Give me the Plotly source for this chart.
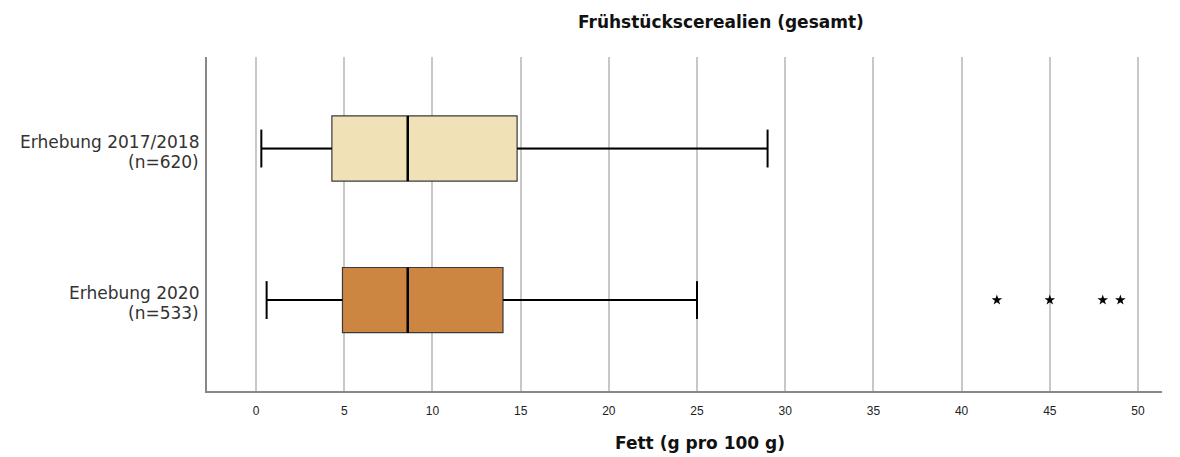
import plotly.graph_objects as go

# Survey groups (top to bottom) and their box statistics for fat content (g per 100 g)
group_names = ["Erhebung 2017/2018", "Erhebung 2020"]
group_sizes = ["(n=620)", "(n=533)"]
lower_whisker = [0.3, 0.6]
q1 = [4.3, 4.9]
median = [8.6, 8.6]
q3 = [14.8, 14.0]
upper_whisker = [29.0, 25.0]
fill_colors = ["#f0e1b6", "#cd8641"]

# Extreme values of the 2020 survey
outliers_2020 = [42, 45, 48, 49]

x_ticks = list(range(0, 55, 5))

box_width = 0.43
cap_half = 0.125
label_font = dict(family="DejaVu Sans, sans-serif", size=17, color="#333333")
bold_font = dict(family="DejaVu Sans, sans-serif", size=17, color="#111111")

fig = go.Figure()

for i in range(len(group_names)):
    fig.add_trace(go.Box(
        y=[i], q1=[q1[i]], median=[median[i]], q3=[q3[i]],
        lowerfence=[lower_whisker[i]], upperfence=[upper_whisker[i]],
        orientation="h", width=box_width, whiskerwidth=0,
        fillcolor=fill_colors[i], line=dict(color="#3a3a3a", width=1.2),
        boxpoints=False, showlegend=False, hoverinfo="skip",
    ))
    # whiskers with end caps
    fig.add_trace(go.Scatter(
        x=[lower_whisker[i], q1[i], None, q3[i], upper_whisker[i], None,
           lower_whisker[i], lower_whisker[i], None, upper_whisker[i], upper_whisker[i]],
        y=[i, i, None, i, i, None,
           i - cap_half, i + cap_half, None, i - cap_half, i + cap_half],
        mode="lines", line=dict(color="black", width=2),
        showlegend=False, hoverinfo="skip",
    ))
    # median line
    fig.add_trace(go.Scatter(
        x=[median[i], median[i]], y=[i - box_width / 2, i + box_width / 2],
        mode="lines", line=dict(color="black", width=2.5),
        showlegend=False, hoverinfo="skip",
    ))
    # category labels, two lines right-aligned at the axis
    fig.add_annotation(x=0, xref="paper", y=i, yref="y", text=group_names[i],
                       xanchor="right", yanchor="middle", xshift=-6, yshift=7,
                       showarrow=False, font=label_font)
    fig.add_annotation(x=0, xref="paper", y=i, yref="y", text=group_sizes[i],
                       xanchor="right", yanchor="middle", xshift=-6, yshift=-13,
                       showarrow=False, font=label_font)

fig.add_trace(go.Scatter(
    x=outliers_2020, y=[1] * len(outliers_2020), mode="markers",
    marker=dict(symbol="star", size=8, color="black"),
    showlegend=False, hoverinfo="skip",
))

# chart title and x-axis title (paper y is measured over the 334 px plot height)
fig.add_annotation(x=(721 - 207) / 955, xref="paper", y=(391 - 22) / 334, yref="paper",
                   text="<b>Frühstückscerealien (gesamt)</b>", showarrow=False,
                   xanchor="center", yanchor="middle", font=bold_font)
fig.add_annotation(x=(699.5 - 207) / 955, xref="paper", y=-52 / 334, yref="paper",
                   text="<b>Fett (g pro 100 g)</b>", showarrow=False,
                   xanchor="center", yanchor="middle", font=bold_font)

fig.update_layout(
    width=1180, height=457,
    margin=dict(l=207, r=18, t=57, b=66),
    paper_bgcolor="white", plot_bgcolor="white",
    font=dict(family="Liberation Sans, Arial, sans-serif", color="#333333"),
    xaxis=dict(
        range=[-2.78, 51.36], tickvals=x_ticks, ticktext=[str(t) for t in x_ticks],
        showgrid=True, gridcolor="#c8c8c8", gridwidth=1.5,
        zeroline=False, showline=True, linecolor="#888888", linewidth=1.5,
        ticks="", ticklabelstandoff=8, tickfont=dict(size=12, color="#222222"),
    ),
    yaxis=dict(
        range=[1.6, -0.604], showticklabels=False,
        showgrid=False, zeroline=False, showline=True,
        linecolor="#888888", linewidth=1.5, ticks="",
    ),
)

fig.write_html("out.html")
